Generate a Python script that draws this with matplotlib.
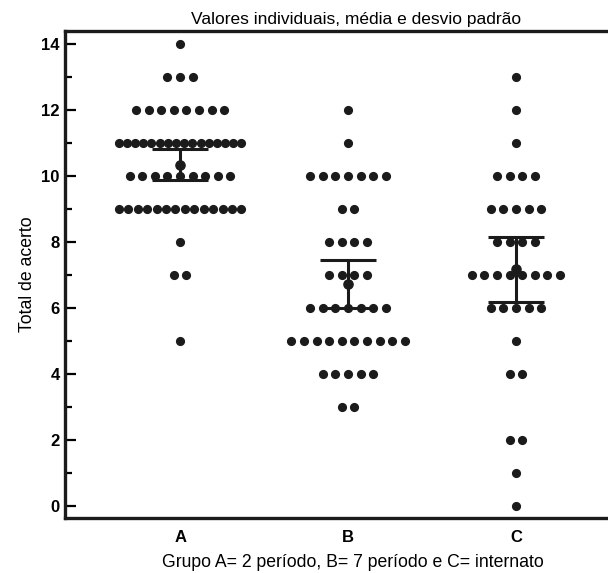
import matplotlib.pyplot as plt
import numpy as np
from matplotlib.ticker import MultipleLocator

plt.rcParams['font.family'] = ['Liberation Sans', 'DejaVu Sans']

# valores: (nota, quantidade de alunos)
grupo_a = [(14, 1), (13, 3), (12, 8), (11, 16), (10, 9), (9, 14), (8, 1), (7, 2), (5, 1)]
grupo_b = [(12, 1), (11, 1), (10, 7), (9, 2), (8, 4), (7, 4), (6, 7), (5, 10), (4, 5), (3, 2)]
grupo_c = [(13, 1), (12, 1), (11, 1), (10, 4), (9, 5), (8, 4), (7, 8), (6, 5), (5, 1),
           (4, 2), (2, 2), (1, 1), (0, 1)]
grupos = ['A', 'B', 'C']
media = [10.33, 6.72, 7.17]
barra_inf = [9.88, 6.00, 6.18]
barra_sup = [10.82, 7.45, 8.15]

cor = '#1b1b1b'
fig = plt.figure(figsize=(6.08, 5.73), dpi=100)
ax = fig.add_axes([0.107, 0.096, 0.893, 0.850])

passo = 0.075
largura_max = 0.73
for i, dados in enumerate([grupo_a, grupo_b, grupo_c]):
    centro = i + 1
    for valor, n in dados:
        d = passo if n < 2 else min(passo, largura_max / (n - 1))
        xs = centro + (np.arange(n) - (n - 1) / 2) * d
        ax.plot(xs, [valor] * n, 'o', color=cor, markersize=6.6, markeredgewidth=0, zorder=3)
    ax.errorbar(centro, media[i],
                yerr=[[media[i] - barra_inf[i]], [barra_sup[i] - media[i]]],
                fmt='o', color=cor, markersize=6.6, elinewidth=2.2, capsize=20.5,
                capthick=2.2, zorder=4)

ax.set_xlim(0.315, 3.548)
ax.set_ylim(-0.36, 14.39)
ax.set_xticks([1, 2, 3])
ax.set_xticklabels(grupos, fontweight='bold', fontsize=12)
ax.tick_params(axis='x', length=0, pad=9)
ax.yaxis.set_major_locator(MultipleLocator(2))
ax.yaxis.set_minor_locator(MultipleLocator(1))
ax.tick_params(axis='y', which='major', direction='in', length=8, width=1.6, labelsize=12, pad=4)
ax.tick_params(axis='y', which='minor', direction='in', length=5, width=1.6)
for lab in ax.get_yticklabels():
    lab.set_fontweight('bold')

for s in ['left', 'bottom', 'top']:
    ax.spines[s].set_linewidth(2.4)
    ax.spines[s].set_color(cor)
ax.spines['right'].set_visible(False)

ax.set_ylabel('Total de acerto', fontsize=12.7)
ax.yaxis.set_label_coords(-0.054, 0.50)
ax.set_xlabel('Grupo A= 2 período, B= 7 período e C= internato', fontsize=12.7)
ax.xaxis.set_label_coords(0.530, -0.073)
ax.set_title('Valores individuais, média e desvio padrão', fontsize=12.5, x=0.536, pad=5)

fig.savefig('out.png', dpi=100)
